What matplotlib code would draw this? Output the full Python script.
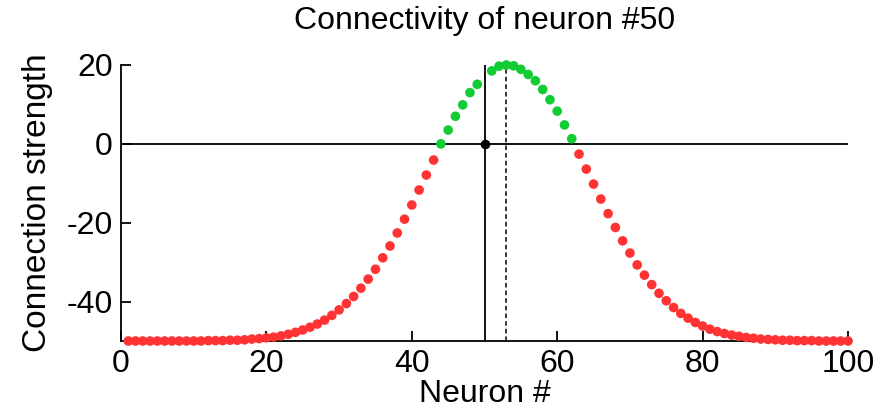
import matplotlib
matplotlib.use("Agg")
import matplotlib.pyplot as plt

plt.rcParams['font.family'] = ['Liberation Sans', 'DejaVu Sans']
plt.rcParams['axes.unicode_minus'] = False

# connection strength of neuron #50 to neurons 1..100
neurons = list(range(1, 101))
strength = [
    -50.0, -50.0, -50.0, -50.0, -50.0, -50.0, -50.0, -50.0, -50.0, -50.0,
    -50.0, -49.9, -49.9, -49.9, -49.8, -49.8, -49.7, -49.5, -49.4, -49.2,
    -49.0, -48.7, -48.3, -47.8, -47.2, -46.5, -45.7, -44.7, -43.5, -42.1,
    -40.5, -38.7, -36.6, -34.3, -31.8, -28.9, -25.9, -22.6, -19.1, -15.5,
    -11.7, -7.9, -4.1, 0.0, 3.5, 7.0, 9.9, 13.0, 15.1, 0.0,
    18.5, 19.7, 20.0, 19.8, 18.9, 17.6, 16.0, 13.8, 11.2, 8.3,
    4.8, 1.3, -2.6, -6.4, -10.2, -14.0, -17.7, -21.2, -24.6, -27.7,
    -30.7, -33.3, -35.7, -37.9, -39.8, -41.5, -43.0, -44.2, -45.3, -46.2,
    -47.0, -47.6, -48.1, -48.5, -48.8, -49.1, -49.3, -49.5, -49.6, -49.7,
    -49.8, -49.8, -49.9, -49.9, -49.9, -50.0, -50.0, -50.0, -50.0, -50.0,
]
self_neuron = 50
preferred = 53

RED = '#ff3333'
GREEN = '#11cc33'


def main():
    fig = plt.figure(figsize=(8.89, 4.08), dpi=100)
    ax = fig.add_axes([0.1361, 0.1642, 0.8178, 0.6765])

    ax.axhline(0, color='black', lw=1.3, zorder=1)
    ax.axvline(self_neuron, color='black', lw=1.3, zorder=1)
    ax.axvline(preferred, color='black', lw=1.1, ls=(0, (3, 2)), zorder=1)

    xs, ys, cs = [], [], []
    for n, s in zip(neurons, strength):
        if n == self_neuron:
            continue
        xs.append(n)
        ys.append(s)
        cs.append(GREEN if s >= 0 else RED)
    ax.scatter(xs, ys, s=48, c=cs, linewidths=0, zorder=3, clip_on=False)
    ax.scatter([self_neuron], [strength[self_neuron - 1]], s=48, c='black',
               linewidths=0, zorder=4)

    ax.set_xlim(0, 100)
    ax.set_ylim(-50, 20)
    ax.set_xticks([0, 20, 40, 60, 80, 100])
    ax.set_yticks([-40, -20, 0, 20])
    ax.spines['top'].set_visible(False)
    ax.spines['right'].set_visible(False)
    for sp in ('left', 'bottom'):
        ax.spines[sp].set_linewidth(1.3)
    ax.tick_params(direction='in', length=7, width=1.3, labelsize=23, pad=6)

    ax.set_xlabel('Neuron #', fontsize=23, labelpad=0)
    ax.set_ylabel('Connection strength', fontsize=24, labelpad=10)
    ax.set_title('Connectivity of neuron #50', fontsize=23, pad=26)

    fig.savefig('out.png', dpi=100)


if __name__ == "__main__":
    main()
